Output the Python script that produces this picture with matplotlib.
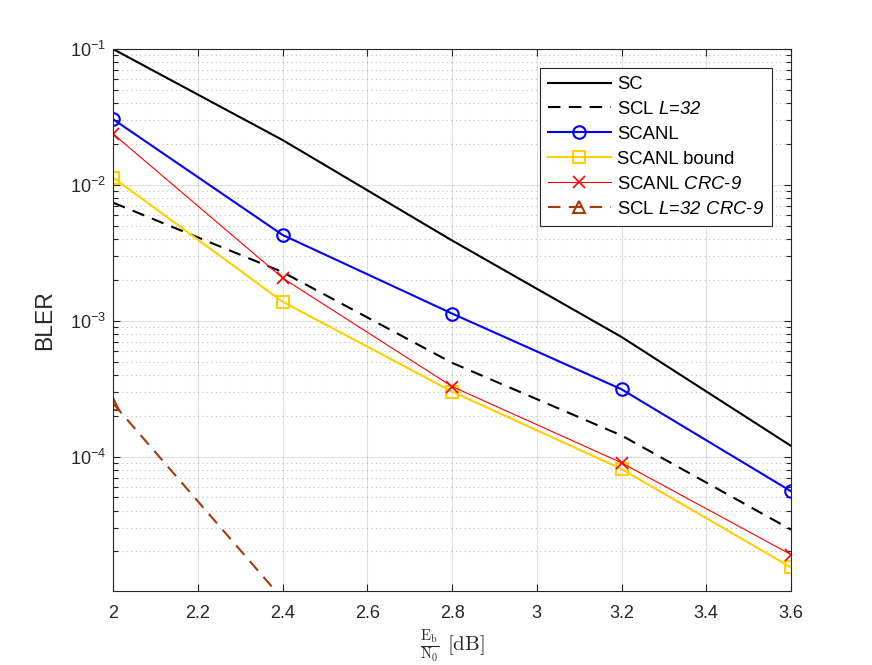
import matplotlib
matplotlib.use('Agg')
import matplotlib.pyplot as plt
from matplotlib.ticker import FixedLocator, FixedFormatter, LogLocator, NullFormatter

plt.rcParams['font.family'] = ['Liberation Sans', 'DejaVu Sans']
plt.rcParams['mathtext.fontset'] = 'custom'
plt.rcParams['mathtext.rm'] = 'cmr10'
plt.rcParams['mathtext.sf'] = 'Liberation Sans:italic'

# Data
ebn0 = [2.0, 2.4, 2.8, 3.2, 3.6]
bler_sc = [1.0e-1, 2.14e-2, 3.9e-3, 7.6e-4, 1.2e-4]
bler_scl = [7.4e-3, 2.28e-3, 4.9e-4, 1.43e-4, 2.9e-5]
bler_scanl = [3.04e-2, 4.28e-3, 1.13e-3, 3.13e-4, 5.56e-5]
bler_bound = [1.13e-2, 1.38e-3, 3.01e-4, 8.1e-5, 1.53e-5]
bler_scanl_crc = [2.37e-2, 2.06e-3, 3.28e-4, 9.0e-5, 1.9e-5]
ebn0_scl_crc = [2.0, 2.4]
bler_scl_crc = [2.45e-4, 8.9e-6]

xticks = [2.0, 2.2, 2.4, 2.6, 2.8, 3.0, 3.2, 3.4, 3.6]

fig = plt.figure(figsize=(8.72, 6.65), dpi=100)
ax = fig.add_axes([0.13, 0.111, 0.777, 0.815])

ax.semilogy(ebn0, bler_sc, '-', color='k', lw=1.5, label='SC')
ax.semilogy(ebn0, bler_scl, '--', color='k', lw=1.5, dashes=(6, 4),
            label='SCL $\\mathsf{L}$=$\\mathsf{32}$')
ax.semilogy(ebn0, bler_scanl, '-o', color='#0000ff', lw=1.5, ms=9,
            mfc='none', mew=1.5, label='SCANL')
ax.semilogy(ebn0, bler_bound, '-s', color='#ffd000', lw=1.5, ms=8,
            mfc='none', mew=1.5, label='SCANL bound')
ax.semilogy(ebn0, bler_scanl_crc, '-x', color='#ff0000', lw=0.8, ms=9,
            mew=1.2, label='SCANL $\\mathsf{CRC}$-$\\mathsf{9}$')
ax.semilogy(ebn0_scl_crc, bler_scl_crc, '--^', color='#a33a0a', lw=1.5,
            ms=9, mfc='none', mew=1.5, dashes=(6, 4),
            label='SCL $\\mathsf{L}$=$\\mathsf{32\\ CRC}$-$\\mathsf{9}$')

ax.set_xlim(2, 3.6)
ax.set_ylim(1.02e-5, 1e-1)
ax.xaxis.set_major_locator(FixedLocator(xticks))
ax.xaxis.set_major_formatter(FixedFormatter(['%g' % t for t in xticks]))
ax.yaxis.set_major_locator(LogLocator(base=10, numticks=10))
ax.yaxis.set_minor_locator(LogLocator(base=10, subs=range(2, 10), numticks=10))
ax.yaxis.set_minor_formatter(NullFormatter())

ax.grid(True, which='major', color='#262626', alpha=0.15, lw=0.8)
ax.grid(True, which='minor', axis='y', color='#262626', alpha=0.3, lw=0.8,
        ls=(0, (1, 3)))
ax.tick_params(which='both', direction='in', top=True, right=True,
               colors='#262626', labelsize=13)
ax.tick_params(which='major', length=5, width=0.8)
ax.tick_params(which='minor', length=3.5, width=0.8)
ax.tick_params(axis='x', which='major', pad=10)
ax.tick_params(axis='y', which='major', pad=5)
for s in ax.spines.values():
    s.set_color('#262626')
    s.set_linewidth(0.8)

ax.set_ylabel('BLER', fontsize=16.5, color='#262626', labelpad=10)
ax.set_xlabel('$\\frac{\\mathrm{E_b}}{\\mathrm{N_0}}\\ \\mathrm{[dB]}$',
              fontsize=15, color='#262626', labelpad=4)

leg = ax.legend(loc='upper right', fontsize=13.3, handlelength=3.4,
                handletextpad=0.35, fancybox=False, edgecolor='#262626',
                framealpha=1, borderaxespad=1.0, labelspacing=0.43,
                borderpad=0.45)
leg.get_frame().set_linewidth(0.8)

fig.savefig('out.png', dpi=100)
